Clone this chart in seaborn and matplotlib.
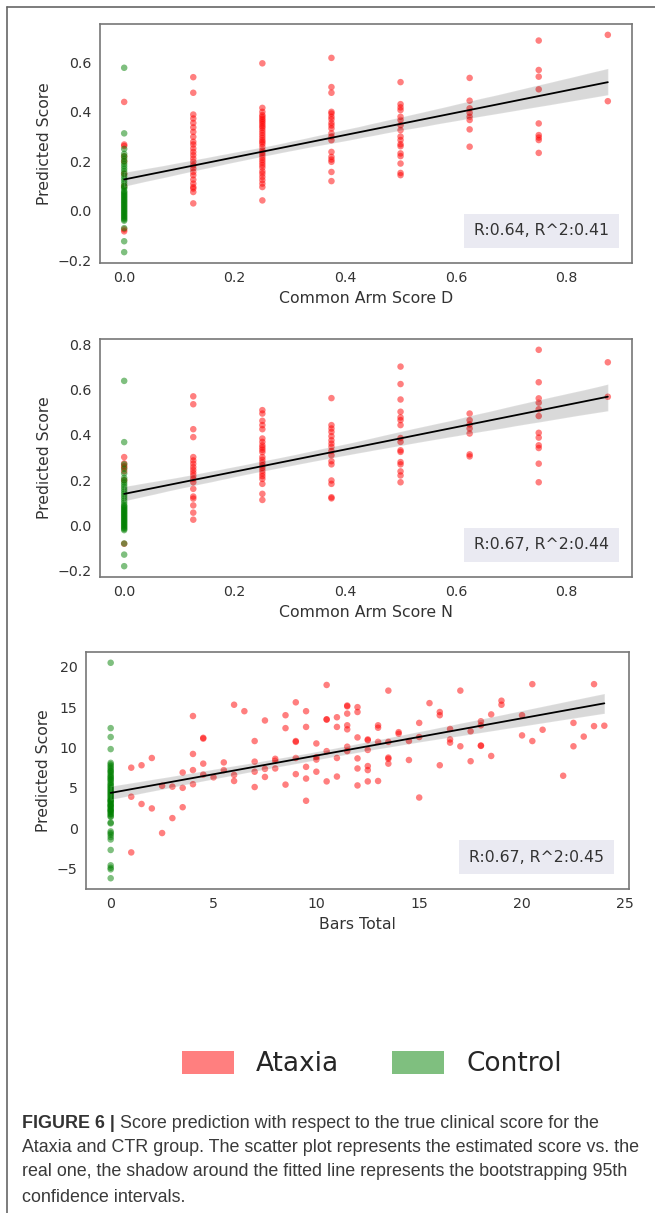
import numpy as np
import pandas as pd
import matplotlib
matplotlib.use("Agg")
import matplotlib.pyplot as plt
import matplotlib.patches as mpatches
from matplotlib.lines import Line2D
import seaborn as sns

# ---- data ---------------------------------------------------------------
# Common Arm Score D
D_LEVELS = [0.0, 0.125, 0.25, 0.375, 0.5, 0.625, 0.75, 0.875]
D_ATAXIA = [
    [0.44, 0.268, 0.262, 0.22, 0.20, 0.15, 0.10, -0.075, -0.083],
    [0.54, 0.477, 0.389, 0.373, 0.355, 0.337, 0.319, 0.299, 0.279, 0.268, 0.252, 0.238, 0.225,
     0.211, 0.198, 0.184, 0.171, 0.157, 0.144, 0.126, 0.11, 0.096, 0.09, 0.076, 0.03],
    [0.596, 0.416, 0.40, 0.387, 0.38, 0.372, 0.365, 0.358, 0.35, 0.342, 0.335, 0.325, 0.315, 0.305,
     0.295, 0.285, 0.278, 0.27, 0.258, 0.245, 0.235, 0.225, 0.215, 0.205, 0.195, 0.185, 0.175,
     0.16, 0.15, 0.137, 0.124, 0.11, 0.096, 0.042],
    [0.618, 0.50, 0.477, 0.40, 0.393, 0.38, 0.37, 0.355, 0.345, 0.333, 0.313, 0.30, 0.285, 0.238,
     0.218, 0.207, 0.198, 0.157, 0.12],
    [0.52, 0.431, 0.418, 0.407, 0.38, 0.367, 0.346, 0.326, 0.30, 0.286, 0.269, 0.261, 0.232, 0.221,
     0.191, 0.153, 0.144],
    [0.537, 0.445, 0.414, 0.396, 0.38, 0.367, 0.329, 0.259],
    [0.688, 0.569, 0.542, 0.491, 0.353, 0.306, 0.296, 0.286, 0.234],
    [0.711, 0.443],
]
D_CONTROL = [0.578, 0.313, 0.25, 0.23, 0.22, 0.21, 0.20, 0.19, 0.18, 0.17, 0.16, 0.15, 0.14, 0.13,
             0.12, 0.11, 0.10, 0.095, 0.09, 0.08, 0.075, 0.07, 0.065, 0.06, 0.055, 0.05, 0.045,
             0.04, 0.035, 0.03, 0.025, 0.02, 0.015, 0.01, 0.005, 0.0, -0.005, -0.01, -0.015, -0.02,
             -0.025, -0.03, -0.035, -0.04, -0.07, -0.123, -0.167]

# Common Arm Score N
N_LEVELS = [0.0, 0.125, 0.25, 0.375, 0.5, 0.625, 0.75, 0.875]
N_ATAXIA = [
    [0.302, 0.274, 0.262, 0.256, 0.24, 0.2, -0.08],
    [0.57, 0.535, 0.425, 0.39, 0.302, 0.287, 0.273, 0.258, 0.245, 0.232, 0.22, 0.206, 0.191, 0.162,
     0.128, 0.119, 0.089, 0.057, 0.026],
    [0.509, 0.494, 0.462, 0.443, 0.425, 0.384, 0.369, 0.354, 0.344, 0.334, 0.324, 0.302, 0.29,
     0.278, 0.266, 0.254, 0.242, 0.23, 0.218, 0.206, 0.184, 0.14, 0.113],
    [0.562, 0.443, 0.428, 0.413, 0.394, 0.376, 0.361, 0.347, 0.329, 0.31, 0.284, 0.27, 0.199,
     0.184, 0.125, 0.12],
    [0.701, 0.624, 0.556, 0.502, 0.477, 0.465, 0.443, 0.386, 0.369, 0.332, 0.325, 0.28, 0.27,
     0.239, 0.221, 0.191],
    [0.494, 0.465, 0.446, 0.428, 0.406, 0.314, 0.305],
    [0.775, 0.632, 0.561, 0.542, 0.513, 0.483, 0.409, 0.388, 0.354, 0.342, 0.273, 0.191],
    [0.72, 0.568],
]
N_CONTROL = [0.638, 0.368, 0.27, 0.25, 0.23, 0.21, 0.20, 0.19, 0.18, 0.17, 0.16, 0.15, 0.14,
             0.13, 0.12, 0.11, 0.10, 0.09, 0.085, 0.08, 0.075, 0.07, 0.065, 0.06, 0.055, 0.05,
             0.045, 0.04, 0.035, 0.03, 0.025, 0.02, 0.015, 0.01, 0.005, 0.0, -0.005, -0.01,
             -0.015, -0.02, -0.079, -0.128, -0.179]

# Bars Total
BARS_X = [1, 1, 1, 1.5, 1.5, 2, 2, 2.5, 2.5, 3, 3, 3.5, 3.5, 3.5, 4, 4, 4, 4, 4.5, 4.5, 4.5, 4.5,
          5, 5.5, 5.5, 6, 6, 6, 6.5, 7, 7, 7, 7, 7.5, 7.5, 7.5, 8, 8, 8, 8.5, 8.5, 8.5,
          9, 9, 9, 9, 9, 9.5, 9.5, 9.5, 9.5, 9.5, 10, 10, 10, 10, 10.5, 10.5, 10.5, 10.5, 10.5,
          11, 11, 11, 11, 11.5, 11.5, 11.5, 11.5, 11.5, 11.5, 11.5, 12, 12, 12, 12, 12, 12,
          12.5, 12.5, 12.5, 12.5, 12.5, 12.5, 13, 13, 13, 13, 13.5, 13.5, 13.5, 13.5, 13.5,
          14, 14, 14.5, 14.5, 15, 15, 15, 15.5, 16, 16, 16, 16.5, 16.5, 16.5, 17, 17,
          17.5, 17.5, 18, 18, 18, 18, 18.5, 18.5, 19, 19, 20, 20, 20.5, 20.5, 21, 22,
          22.5, 22.5, 23, 23.5, 23.5, 24]
BARS_Y = [7.5, 3.9, -3.0, 7.8, 3.0, 8.7, 2.45, 5.25, -0.6, 5.15, 1.25, 6.9, 5.0, 2.6,
          13.9, 9.2, 7.2, 5.45, 11.2, 11.1, 8.0, 6.65, 6.3, 8.15, 7.2, 15.3, 6.6, 5.85, 14.5,
          10.8, 8.25, 7.0, 5.1, 13.35, 7.35, 6.35, 8.6, 8.35, 7.4, 14.0, 12.4, 5.4,
          15.6, 10.8, 10.7, 8.7, 6.7, 14.5, 12.55, 7.6, 6.15, 3.4, 10.5, 8.8, 8.5, 7.0,
          17.75, 13.5, 13.45, 9.55, 5.8, 13.75, 12.55, 8.7, 6.4,
          15.2, 15.1, 14.2, 12.75, 12.25, 10.1, 9.55, 15.0, 14.4, 11.25, 8.65, 7.4, 5.3,
          11.0, 10.9, 9.7, 7.7, 7.2, 5.8, 12.75, 12.45, 10.7, 5.85, 17.05, 10.7, 8.75, 8.6, 8.0,
          11.9, 11.7, 10.8, 8.45, 13.05, 11.3, 3.8, 15.5, 14.4, 14.0, 7.8, 12.3, 11.0, 10.6,
          17.05, 10.15, 12.0, 8.3, 13.25, 12.75, 10.25, 10.2, 14.1, 8.95, 15.8, 15.3,
          14.0, 11.5, 17.85, 10.8, 12.2, 6.5, 13.05, 10.15, 11.35, 17.85, 12.65, 12.7]
BARS_CONTROL = [20.5, 12.4, 11.3, 9.8, 8.1, 7.9, 7.7, 7.5, 7.3, 7.1, 7.0, 6.8, 6.6, 6.4, 6.3, 6.1,
                6.0, 5.8, 5.6, 5.4, 5.3, 5.1, 5.0, 4.8, 4.7, 4.5, 4.4, 4.2, 4.1, 3.9, 3.8, 3.6,
                3.5, 3.4, 3.3, 3.2, 3.0, 2.9, 2.8, 2.7, 2.6, 2.4, 2.3, 2.2, 2.1, 2.0, 1.8, 1.7,
                1.5, 1.4, 0.7, 0.6, -0.4, -0.6, -0.8, -1.1, -1.4, -2.7, -4.6, -4.9, -5.1, -6.2]

PANELS = [
    ("Common Arm Score D", "R:0.64, R^2:0.41"),
    ("Common Arm Score N", "R:0.67, R^2:0.44"),
    ("Bars Total", "R:0.67, R^2:0.45"),
]
GROUP_COLORS = {"Ataxia": "red", "Control": "green"}

CAPTION_BOLD = "FIGURE 6 |"
CAPTION_LINES = [
    " Score prediction with respect to the true clinical score for the",
    "Ataxia and CTR group. The scatter plot represents the estimated score vs. the",
    "real one, the shadow around the fitted line represents the bootstrapping 95th",
    "confidence intervals.",
]


def level_frame(levels, ataxia, control):
    rows = []
    for lv, ys in zip(levels, ataxia):
        rows += [(lv, y, "Ataxia") for y in ys]
    rows += [(0.0, y, "Control") for y in control]
    return pd.DataFrame(rows, columns=["true", "pred", "group"])


def bars_frame():
    rows = [(x, y, "Ataxia") for x, y in zip(BARS_X, BARS_Y)]
    rows += [(0.0, y, "Control") for y in BARS_CONTROL]
    return pd.DataFrame(rows, columns=["true", "pred", "group"])


frames = [level_frame(D_LEVELS, D_ATAXIA, D_CONTROL),
          level_frame(N_LEVELS, N_ATAXIA, N_CONTROL),
          bars_frame()]

sns.set_theme(style="white")
plt.rcParams["font.family"] = ["DejaVu Sans"]

W, H = 655, 1213
fig = plt.figure(figsize=(W / 100, H / 100), dpi=100)
fig.patch.set_facecolor("white")

# axes boxes in pixels: left, top, right, bottom
boxes = [(100, 24, 632, 263), (100, 339, 632, 577), (86, 652, 629, 889)]

for (xlab, rtxt), df, (l, t, r, b) in zip(PANELS, frames, boxes):
    ax = fig.add_axes([l / W, 1 - b / H, (r - l) / W, (b - t) / H])
    sns.scatterplot(data=df, x="true", y="pred", hue="group", palette=GROUP_COLORS,
                    alpha=0.5, s=22, linewidth=0, legend=False, ax=ax)
    sns.regplot(data=df, x="true", y="pred", scatter=False, color="black", seed=0,
                line_kws=dict(lw=1.3), ax=ax)
    ax.set_xlabel(xlab, fontsize=11.3, color="#333333")
    ax.set_ylabel("Predicted Score", fontsize=11.3, color="#333333")
    ax.tick_params(axis="both", length=0, pad=6, labelsize=10.2, labelcolor="#333333")
    for s in ax.spines.values():
        s.set_color("#777777")
        s.set_linewidth(1.2)
    ax.text(0.83, 0.135, rtxt, transform=ax.transAxes, ha="center", va="center",
            fontsize=11.3, color="#333333",
            bbox=dict(facecolor="#EAEAF2", edgecolor="none", boxstyle="square,pad=0.62"))

# shared legend
handles = [mpatches.Patch(facecolor=GROUP_COLORS[g], alpha=0.5, edgecolor="none", label=g)
           for g in ["Ataxia", "Control"]]
fig.legend(handles=handles, loc="center", bbox_to_anchor=(372 / W, 1 - 1064 / H), ncol=2,
           frameon=False, fontsize=19, handlelength=1.95, handleheight=0.95,
           handletextpad=0.85, columnspacing=2.0)

# outer frame of the figure panel
fig.add_artist(Line2D([7 / W, 1], [1 - 7 / H, 1 - 7 / H], transform=fig.transFigure,
                      color="#666666", lw=1.2))
fig.add_artist(Line2D([7 / W, 7 / W], [0, 1 - 7 / H], transform=fig.transFigure,
                      color="#666666", lw=1.2))

# caption
cap_font = ["Liberation Sans", "DejaVu Sans"]
cap_size = 12.9
baselines = [1127.5, 1152.5, 1176.5, 1201.5]
x0 = 22 / W
bold = fig.text(x0, 1 - baselines[0] / H, CAPTION_BOLD, fontsize=cap_size, fontweight="bold",
                family=cap_font, color="#333333", va="baseline", ha="left")
renderer = fig.canvas.get_renderer()
bb = bold.get_window_extent(renderer)
fig.text(bb.x1 / W, 1 - baselines[0] / H, CAPTION_LINES[0], fontsize=cap_size, family=cap_font,
         color="#3a3a3a", va="baseline", ha="left")
for line, yb in zip(CAPTION_LINES[1:], baselines[1:]):
    fig.text(x0, 1 - yb / H, line, fontsize=cap_size, family=cap_font, color="#3a3a3a",
             va="baseline", ha="left")

fig.savefig("out.png", dpi=100)
